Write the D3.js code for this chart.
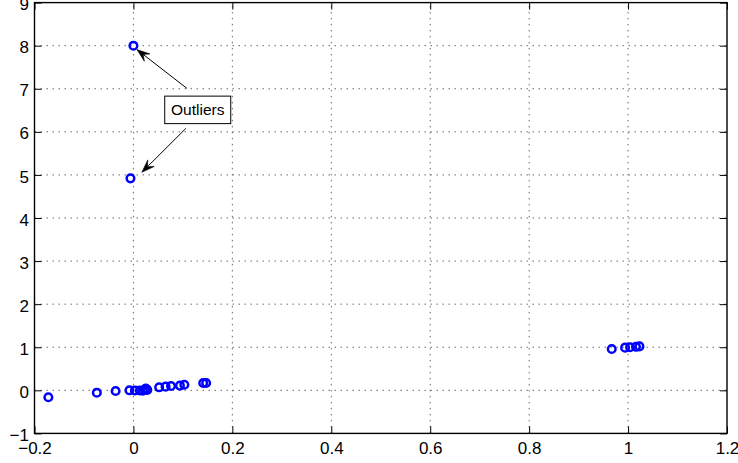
<!DOCTYPE html>
<html>
<head>
<meta charset="utf-8">
<script src="https://cdn.jsdelivr.net/npm/d3@7"></script>
<style>
  html, body { margin: 0; padding: 0; background: #fff; }
  svg { display: block; }
  text { font-family: "Liberation Sans", Arial, Helvetica, sans-serif; fill: #000; }
</style>
</head>
<body>
<svg id="chart" width="738" height="463"></svg>
<script>
// Scatter samples
const xValues = [-0.172, -0.074, -0.036, -0.008, 0.003, 0.013, 0.019, 0.023, 0.025, 0.028,
                 0.052, 0.065, 0.076, 0.094, 0.103, 0.141, 0.147,
                 0.967, 0.994, 1.004, 1.016, 1.023,
                 0.0, -0.006];
const yValues = [-0.16, -0.055, -0.016, 0.0, -0.003, -0.005, -0.01, 0.02, 0.04, 0.01,
                 0.07, 0.085, 0.10, 0.11, 0.13, 0.17, 0.17,
                 0.96, 0.99, 1.0, 1.01, 1.02,
                 8.0, 4.92];

// Axis ticks
const xTicks = [-0.2, 0, 0.2, 0.4, 0.6, 0.8, 1, 1.2];
const yTicks = [-1, 0, 1, 2, 3, 4, 5, 6, 7, 8, 9];

// Annotation: label box centre and arrow (tail -> tip) in data units
const noteText = "Outliers";
const noteCenter = [0.130, 6.51];
const arrowTails = [[0.108, 7.01], [0.106, 6.08]];
const arrowTips  = [[0.007, 7.91], [0.017, 5.06]];

const margin = { left: 34.5, right: 11, top: 2.6, bottom: 29.6 };
const W = 738, H = 463;
const svg = d3.select("#chart");

const x = d3.scaleLinear().domain([-0.2, 1.2]).range([margin.left, W - margin.right]);
const y = d3.scaleLinear().domain([-1, 9]).range([H - margin.bottom, margin.top]);

const x0 = x.range()[0], x1 = x.range()[1];
const y0 = y.range()[0], y1 = y.range()[1];
const fmt = d => (d < 0 ? "\u2212" : "") + Math.abs(d);

// Dotted grid
const grid = svg.append("g").attr("stroke", "#6a6a6a").attr("stroke-width", 1)
  .attr("stroke-dasharray", "1.5,4.5");
grid.selectAll(".gx").data(xTicks.slice(1, -1)).join("line")
  .attr("x1", d => x(d)).attr("x2", d => x(d)).attr("y1", y0).attr("y2", y1);
grid.selectAll(".gy").data(yTicks.slice(1, -1)).join("line")
  .attr("x1", x0).attr("x2", x1).attr("y1", d => y(d)).attr("y2", d => y(d));

// Axes with inward ticks on all four sides
const tickLen = 7;
const axBottom = svg.append("g").attr("transform", `translate(0,${y0})`)
  .call(d3.axisBottom(x).tickValues(xTicks).tickSize(-tickLen).tickSizeOuter(0).tickFormat(fmt));
const axTop = svg.append("g").attr("transform", `translate(0,${y1})`)
  .call(d3.axisTop(x).tickValues(xTicks).tickSize(-tickLen).tickSizeOuter(0).tickFormat(""));
const axLeft = svg.append("g").attr("transform", `translate(${x0},0)`)
  .call(d3.axisLeft(y).tickValues(yTicks).tickSize(-tickLen).tickSizeOuter(0).tickFormat(fmt));
const axRight = svg.append("g").attr("transform", `translate(${x1},0)`)
  .call(d3.axisRight(y).tickValues(yTicks).tickSize(-tickLen).tickSizeOuter(0).tickFormat(""));

[axBottom, axTop, axLeft, axRight].forEach(g => {
  g.select(".domain").remove();
  g.selectAll(".tick line").attr("stroke", "#000").attr("stroke-width", 1);
});
axBottom.selectAll(".tick text")
  .attr("font-size", 17).attr("font-family", null).attr("y", 21).attr("dy", null);
axLeft.selectAll(".tick text")
  .attr("font-size", 17).attr("font-family", null).attr("x", -5.5).attr("dy", "0.42em");

// Frame
svg.append("rect")
  .attr("x", x0).attr("y", y1).attr("width", x1 - x0).attr("height", y0 - y1)
  .attr("fill", "none").attr("stroke", "#000").attr("stroke-width", 1.4);

// Markers
svg.append("g").selectAll("circle").data(d3.range(xValues.length)).join("circle")
  .attr("cx", i => x(xValues[i])).attr("cy", i => y(yValues[i])).attr("r", 3.8)
  .attr("fill", "none").attr("stroke", "#0000ff").attr("stroke-width", 2.5);

// Arrows with notched heads
const note = svg.append("g");
arrowTails.forEach((t, i) => {
  const tx = x(t[0]), ty = y(t[1]);
  const px = x(arrowTips[i][0]), py = y(arrowTips[i][1]);
  const ang = Math.atan2(py - ty, px - tx);
  const len = 13, half = 4.6, notch = 8;
  const ux = Math.cos(ang), uy = Math.sin(ang), nx = -uy, ny = ux;
  const bx = px - ux * len, by = py - uy * len;
  const mx = px - ux * notch, my = py - uy * notch;
  note.append("line").attr("x1", tx).attr("y1", ty).attr("x2", mx).attr("y2", my)
    .attr("stroke", "#000").attr("stroke-width", 1);
  note.append("path")
    .attr("d", `M${px},${py}L${bx + nx * half},${by + ny * half}L${mx},${my}L${bx - nx * half},${by - ny * half}Z`)
    .attr("fill", "#000").attr("stroke", "#000").attr("stroke-width", 0.6);
});

// Label box
const bw = 66, bh = 27.5;
const cx = x(noteCenter[0]), cy = y(noteCenter[1]);
note.append("rect").attr("x", cx - bw / 2).attr("y", cy - bh / 2).attr("width", bw).attr("height", bh)
  .attr("fill", "#fff").attr("stroke", "#000").attr("stroke-width", 1);
note.append("text").attr("x", cx).attr("y", cy).attr("dy", "0.36em")
  .attr("text-anchor", "middle").attr("font-size", 15.5).text(noteText);
</script>
</body>
</html>
